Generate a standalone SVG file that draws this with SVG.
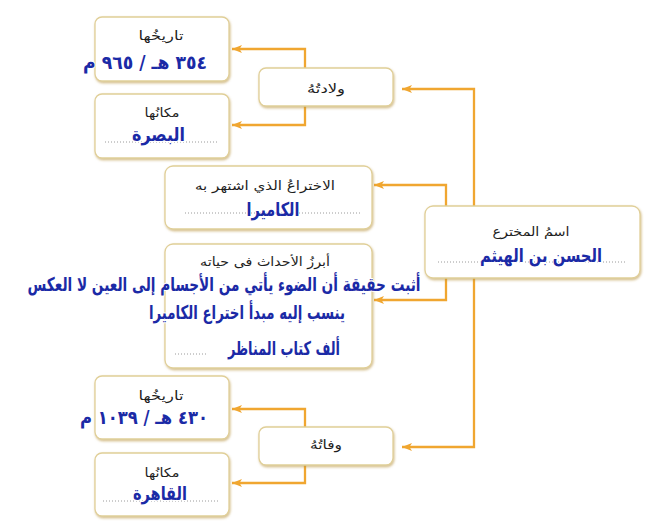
<svg xmlns="http://www.w3.org/2000/svg" width="648" height="527" viewBox="0 0 648 527">
<style>
.box{fill:#ffffff;stroke:#e0cf98;stroke-width:1.3;filter:url(#sh)}
.conn{fill:none;stroke:#f0a630;stroke-width:2.3;marker-end:url(#ah)}
.lbl{font-family:"DejaVu Sans",sans-serif;font-size:12.5px;fill:#1e1e1e;text-anchor:middle;direction:rtl}
.val{font-family:"DejaVu Sans",sans-serif;font-weight:bold;font-size:19px;fill:#1b2aa6;text-anchor:middle;direction:rtl;stroke:#ffffff;stroke-width:2;paint-order:stroke;stroke-linejoin:round}
.dot{stroke:#9a9a9a;stroke-width:1;stroke-dasharray:1 2;fill:none}
</style>
<defs>
<filter id="sh" x="-10%" y="-10%" width="120%" height="130%">
<feDropShadow dx="0.8" dy="1.5" stdDeviation="0.8" flood-color="#b8923c" flood-opacity="0.6"/>
</filter>
<marker id="ah" markerUnits="userSpaceOnUse" markerWidth="10" markerHeight="8" refX="10" refY="4" orient="auto">
<path d="M0,0 L10,4 L0,8 L2.5,4 z" fill="#f0a630"/>
</marker>
</defs>

<g id="connectors">
<path class="conn" d="M474 206 V89 H402"/>
<path class="conn" d="M474 278 V447 H402"/>
<path class="conn" d="M446 206 V185 H374"/>
<path class="conn" d="M446 278 V300 H374"/>
<path class="conn" d="M305 68 V49 H232"/>
<path class="conn" d="M305 106 V125 H232"/>
<path class="conn" d="M305 427 V409 H232"/>
<path class="conn" d="M305 465 V483 H232"/>
</g>

<g id="node-inventor">
<rect class="box" x="425" y="206" width="215" height="72" rx="8"/>
<line class="dot" x1="438" y1="262" x2="627" y2="262"/>
<text class="lbl" x="531" y="236" textLength="77" lengthAdjust="spacingAndGlyphs">اسمُ المخترع</text>
<text class="val" x="541" y="262" font-size="21" textLength="122" lengthAdjust="spacingAndGlyphs">الحسن بن الهيثم</text>
</g>

<g id="node-birth">
<rect class="box" x="259" y="68" width="134" height="38" rx="7"/>
<text class="lbl" x="326" y="93" textLength="38" lengthAdjust="spacingAndGlyphs">ولادتُهُ</text>
</g>

<g id="node-birth-date">
<rect class="box" x="95" y="17" width="134" height="64" rx="7"/>
<text class="lbl" x="161" y="40" textLength="45" lengthAdjust="spacingAndGlyphs">تاريخُها</text>
<text class="val" x="145" y="69" textLength="124" lengthAdjust="spacingAndGlyphs">٣٥٤ هـ / ٩٦٥ م</text>
</g>

<g id="node-birth-place">
<rect class="box" x="95" y="94" width="134" height="64" rx="7"/>
<line class="dot" x1="105" y1="142" x2="218" y2="142"/>
<text class="lbl" x="162" y="117" textLength="35" lengthAdjust="spacingAndGlyphs">مكانُها</text>
<text class="val" x="158.5" y="141" textLength="53" lengthAdjust="spacingAndGlyphs">البصرة</text>
</g>

<g id="node-invention">
<rect class="box" x="165" y="166" width="207" height="63" rx="8"/>
<line class="dot" x1="185" y1="213" x2="360" y2="213"/>
<text class="lbl" x="265" y="190" textLength="140" lengthAdjust="spacingAndGlyphs">الاختراعُ الذي اشتهر به</text>
<text class="val" x="273" y="216" textLength="53" lengthAdjust="spacingAndGlyphs">الكاميرا</text>
</g>

<g id="node-events">
<rect class="box" x="165" y="244" width="207" height="124" rx="8"/>
<line class="dot" x1="175" y1="354" x2="207" y2="354"/>
<text class="lbl" x="265" y="266" textLength="130" lengthAdjust="spacingAndGlyphs">أبرزُ الأحداث فى حياته</text>
<text class="val" x="224" y="291" font-size="18.5" textLength="393" lengthAdjust="spacingAndGlyphs">أثبت حقيقة أن الضوء يأتي من الأجسام إلى العين لا العكس</text>
<text class="val" x="247" y="319" font-size="18.5" textLength="196" lengthAdjust="spacingAndGlyphs">ينسب إليه مبدأ اختراع الكاميرا</text>
<text class="val" x="284" y="355" font-size="18.5" textLength="112" lengthAdjust="spacingAndGlyphs">ألف كتاب المناظر</text>
</g>

<g id="node-death">
<rect class="box" x="259" y="427" width="134" height="38" rx="7"/>
<text class="lbl" x="326" y="449" textLength="32" lengthAdjust="spacingAndGlyphs">وفاتُهُ</text>
</g>

<g id="node-death-date">
<rect class="box" x="95" y="376" width="134" height="63" rx="7"/>
<text class="lbl" x="161" y="400" textLength="45" lengthAdjust="spacingAndGlyphs">تاريخُها</text>
<text class="val" x="144" y="424" textLength="128" lengthAdjust="spacingAndGlyphs">٤٣٠ هـ / ١٠٣٩ م</text>
</g>

<g id="node-death-place">
<rect class="box" x="95" y="453" width="134" height="63" rx="7"/>
<line class="dot" x1="103" y1="501" x2="218" y2="501"/>
<text class="lbl" x="162" y="477" textLength="35" lengthAdjust="spacingAndGlyphs">مكانُها</text>
<text class="val" x="160" y="500" textLength="54" lengthAdjust="spacingAndGlyphs">القاهرة</text>
</g>
</svg>
